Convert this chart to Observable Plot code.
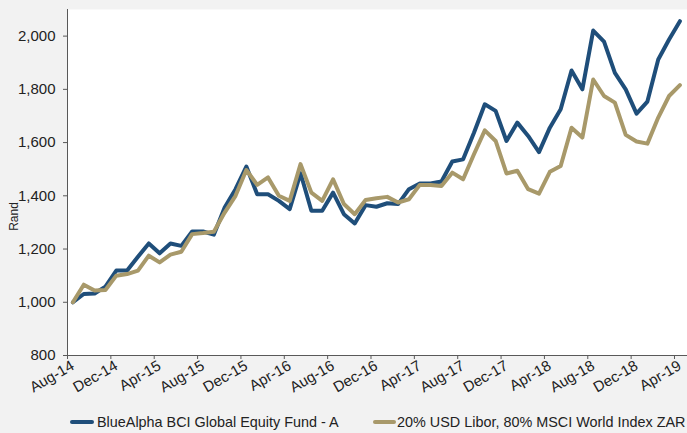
<!DOCTYPE html>
<html>
<head>
<meta charset="utf-8">
<script src="https://cdn.jsdelivr.net/npm/d3@7"></script>
<script src="https://cdn.jsdelivr.net/npm/@observablehq/plot@0.6"></script>
<style>
  html, body { margin: 0; padding: 0; background: #f2f2f2; }
  #wrap { position: relative; width: 687px; height: 433px; overflow: hidden; font-family: "Liberation Sans", Arial, sans-serif; }
  #chart svg { display: block; }
  .leg { position: absolute; top: 413px; height: 18px; font-size: 14.4px; color: #222; white-space: nowrap; line-height: 18px; }
  .sw { position: absolute; top: 7px; height: 4px; border-radius: 2px; }
</style>
</head>
<body>
<div id="wrap">
  <div id="chart"></div>
  <div class="leg" style="left:70px;"><span class="sw" style="left:0;width:24px;background:#1f4e7a"></span><span style="margin-left:27px">BlueAlpha BCI Global Equity Fund - A</span></div>
  <div class="leg" style="left:373px;"><span class="sw" style="left:0;width:23px;background:#a8996a"></span><span style="margin-left:24px">20% USD Libor, 80% MSCI World Index ZAR</span></div>
</div>
<script>
// Monthly categories Aug-14 .. Apr-19 (57 months), labelled every 4 months
const tickLabels = ["Aug-14","Dec-14","Apr-15","Aug-15","Dec-15","Apr-16","Aug-16","Dec-16","Apr-17","Aug-17","Dec-17","Apr-18","Aug-18","Dec-18","Apr-19"];
const seriesNames = ["BlueAlpha BCI Global Equity Fund - A", "20% USD Libor, 80% MSCI World Index ZAR"];
const fundValues = [1000,1031,1033,1059,1119,1119,1171,1221,1184,1221,1212,1266,1266,1254,1356,1425,1510,1406,1406,1381,1350,1485,1344,1344,1412,1331,1296,1365,1359,1372,1369,1425,1446,1446,1454,1529,1537,1637,1744,1719,1606,1675,1625,1564,1656,1725,1871,1800,2021,1979,1862,1800,1709,1754,1912,1987,2056];
const benchValues = [1000,1066,1044,1046,1100,1106,1119,1175,1150,1179,1190,1256,1260,1265,1337,1400,1497,1441,1469,1400,1381,1519,1412,1381,1462,1369,1331,1384,1391,1396,1375,1387,1441,1441,1437,1487,1462,1556,1646,1606,1484,1494,1425,1408,1490,1512,1656,1619,1837,1775,1750,1629,1604,1596,1694,1775,1816];
const yTicks = [800,1000,1200,1400,1600,1800,2000];
const yLabel = "Rand";

const data = [
  ...fundValues.map((v, i) => ({i, v, s: seriesNames[0]})),
  ...benchValues.map((v, i) => ({i, v, s: seriesNames[1]}))
];
const labelPos = tickLabels.map((_, k) => k * 4);
const tickPos = tickLabels.map((_, k) => k * 4 - 0.5);
const axisColor = "#595959";

const chart = Plot.plot({
  width: 687,
  height: 400,
  marginLeft: 67,
  marginRight: 0,
  marginTop: 9,
  marginBottom: 45,
  style: {background: "transparent", fontFamily: "'Liberation Sans', Arial, sans-serif", fontSize: "15px", color: "#222", overflow: "visible"},
  x: {domain: [-0.5, 56.7]},
  y: {domain: [800, 2100]},
  color: {domain: seriesNames, range: ["#1f4e7a", "#a8996a"]},
  marks: [
    Plot.frame({fill: "white", stroke: null}),
    Plot.axisY({ticks: yTicks, tickFormat: d3.format(","), tickSize: 4, tickPadding: 8, label: null, stroke: axisColor, fontSize: 15}),
    Plot.axisX({ticks: tickPos, tickSize: 4, tickFormat: () => "", label: null, stroke: axisColor}),
    Plot.axisX({ticks: labelPos, tickSize: 0, tickPadding: 9, tickRotate: -30, tickFormat: (d) => tickLabels[d / 4], label: null, fontSize: 15}),
    Plot.ruleX([-0.5], {stroke: axisColor, strokeWidth: 1}),
    Plot.ruleY([800], {stroke: axisColor, strokeWidth: 1}),
    Plot.text([yLabel], {frameAnchor: "left", textAnchor: "middle", lineAnchor: "middle", dx: -53, dy: 34, rotate: -90, fontSize: 12, fill: "#222"}),
    Plot.line(data.filter(d => d.s === seriesNames[0]), {x: "i", y: "v", stroke: "s", strokeWidth: 4, strokeLinejoin: "round", strokeLinecap: "round"}),
    Plot.line(data.filter(d => d.s === seriesNames[1]), {x: "i", y: "v", stroke: "s", strokeWidth: 4, strokeLinejoin: "round", strokeLinecap: "round"})
  ]
});
document.getElementById("chart").appendChild(chart);
</script>
</body>
</html>
